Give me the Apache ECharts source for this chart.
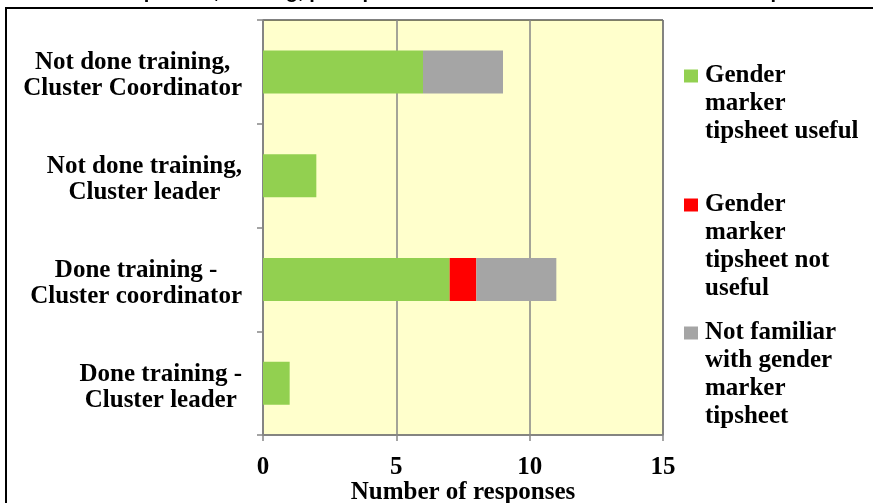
<!DOCTYPE html>
<html>
<head>
<meta charset="utf-8">
<script src="https://cdn.jsdelivr.net/npm/echarts@6/dist/echarts.min.js"></script>
<style>
html,body{margin:0;padding:0;background:#fff;}
#chart{width:873px;height:503px;}
</style>
</head>
<body>
<div id="chart"></div>
<script>
// ---- data ----
const categories = [
  'Not done training,\nCluster Coordinator',
  'Not done training,\nCluster leader',
  'Done training -\nCluster coordinator',
  'Done training -\nCluster leader'
];
const seriesNames = [
  'Gender marker tipsheet useful',
  'Gender marker tipsheet not useful',
  'Not familiar with gender marker tipsheet'
];
const legendLines = [
  ['Gender', 'marker', 'tipsheet useful'],
  ['Gender', 'marker', 'tipsheet not', 'useful'],
  ['Not familiar', 'with gender', 'marker', 'tipsheet']
];
const usefulValues = [6, 2, 7, 1];
const notUsefulValues = [0, 0, 1, 0];
const notFamiliarValues = [3, 0, 3, 0];
const xTicks = [0, 5, 10, 15];
const xAxisTitle = 'Number of responses';
const chartTitle = 'Cluster responses, training, perception of usefulness of the Gender Marker tipsheet';

// ---- styling ----
const colors = ['#92D050', '#FF0000', '#A5A5A5'];
const serif = '"Liberation Serif", "Times New Roman", serif';
const axisGray = '#868686';

const chart = echarts.init(document.getElementById('chart'), null, {renderer: 'canvas'});

const legendTops = [63.5, 192.5, 320.5];
const legends = seriesNames.map((name, i) => ({
  data: [name],
  left: 678,
  top: legendTops[i],
  orient: 'vertical',
  padding: 0,
  itemWidth: 1,
  itemHeight: 1,
  itemStyle: {opacity: 0},
  selectedMode: false,
  formatter: () => legendLines[i].map((l, k) => k === 0 ? '{sq|}{t|' + l + '}' : '{t2|' + l + '}').join('\n'),
  textStyle: {
    color: '#000',
    rich: {
      sq: {width: 14, height: 13, backgroundColor: colors[i]},
      t: {fontFamily: serif, fontWeight: 'bold', fontSize: 25, lineHeight: 28, color: '#000', padding: [0, 0, 0, 7]},
      t2: {fontFamily: serif, fontWeight: 'bold', fontSize: 25, lineHeight: 28, color: '#000', padding: [0, 0, 0, 21]}
    }
  }
}));

const valueSets = [usefulValues, notUsefulValues, notFamiliarValues];

chart.setOption({
  animation: false,
  backgroundColor: '#fff',
  graphic: [
    {
      type: 'rect', z: -10, silent: true,
      shape: {x: 6, y: 8, width: 900, height: 520},
      style: {fill: 'none', stroke: '#000', lineWidth: 2}
    },
    {
      type: 'text', silent: true,
      x: 437, y: -8,
      style: {
        text: chartTitle,
        fontFamily: '"Liberation Sans", Arial, sans-serif',
        fontWeight: 'bold', fontSize: 20,
        align: 'center', verticalAlign: 'middle', fill: '#000'
      }
    }
  ],
  legend: legends,
  grid: {
    left: 263, right: 210, top: 20, bottom: 68,
    show: true, backgroundColor: '#FFFFCC', borderColor: '#000', borderWidth: 1,
    containLabel: false,
    outerBoundsMode: 'none'
  },
  xAxis: {
    type: 'value',
    min: xTicks[0], max: xTicks[xTicks.length - 1], interval: xTicks[1] - xTicks[0],
    name: xAxisTitle,
    nameLocation: 'middle',
    nameGap: 45,
    nameMoveOverlap: false,
    nameTextStyle: {fontFamily: serif, fontWeight: 'bold', fontSize: 25, color: '#000'},
    axisLine: {show: true, lineStyle: {color: axisGray, width: 1.5}},
    axisTick: {show: true, length: 6, lineStyle: {color: axisGray, width: 1.5}},
    splitLine: {show: true, lineStyle: {color: axisGray, width: 1.5}},
    axisLabel: {fontFamily: serif, fontWeight: 'bold', fontSize: 25, color: '#000', margin: 20}
  },
  yAxis: {
    type: 'category',
    data: categories,
    inverse: true,
    axisLine: {show: true, lineStyle: {color: axisGray, width: 1.5}},
    axisTick: {show: true, length: 6, lineStyle: {color: axisGray, width: 1.5}},
    splitLine: {show: false},
    axisLabel: {
      interval: 0,
      margin: 21,
      align: 'right',
      padding: [8, 0, 0, 0],
      formatter: v => v.split('\n').map(l => '{a|' + l + '}').join('\n'),
      rich: {
        a: {fontFamily: serif, fontWeight: 'bold', fontSize: 25, lineHeight: 26, color: '#000', align: 'center'}
      }
    }
  },
  series: seriesNames.map((name, i) => ({
    name: name,
    type: 'bar',
    stack: 'total',
    barWidth: 43,
    itemStyle: {color: colors[i]},
    data: valueSets[i]
  }))
});
</script>
</body>
</html>
